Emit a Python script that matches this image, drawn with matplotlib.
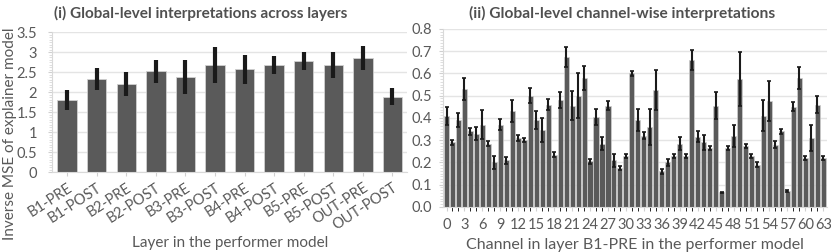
import numpy as np
import matplotlib
matplotlib.use("Agg")
import matplotlib.pyplot as plt
from matplotlib.ticker import AutoMinorLocator

# (i) layer-wise values
layers = ['B1-PRE', 'B1-POST', 'B2-PRE', 'B2-POST', 'B3-PRE', 'B3-POST',
          'B4-PRE', 'B4-POST', 'B5-PRE', 'B5-POST', 'OUT-PRE', 'OUT-POST']
layer_mean = [1.80, 2.33, 2.20, 2.52, 2.38, 2.68, 2.57, 2.68, 2.78, 2.68, 2.85, 1.88]
layer_err = [0.25, 0.28, 0.30, 0.29, 0.43, 0.45, 0.36, 0.22, 0.22, 0.32, 0.30, 0.21]

# (ii) channel-wise values for layer B1-PRE
channel_mean = [0.41, 0.29, 0.39, 0.53, 0.34, 0.33, 0.37, 0.285, 0.20, 0.37,
                0.21, 0.43, 0.31, 0.30, 0.50, 0.39, 0.345, 0.46, 0.235, 0.48,
                0.675, 0.455, 0.50, 0.58, 0.205, 0.405, 0.285, 0.455, 0.21, 0.175,
                0.23, 0.60, 0.39, 0.32, 0.36, 0.525, 0.16, 0.20, 0.23, 0.285,
                0.23, 0.66, 0.315, 0.29, 0.265, 0.455, 0.065, 0.265, 0.32, 0.575,
                0.275, 0.23, 0.19, 0.41, 0.475, 0.28, 0.34, 0.07, 0.45, 0.58,
                0.22, 0.31, 0.46, 0.22]
channel_err = [0.04, 0.01, 0.03, 0.05, 0.015, 0.03, 0.065, 0.01, 0.03, 0.025,
               0.015, 0.05, 0.015, 0.01, 0.035, 0.04, 0.055, 0.025, 0.01, 0.035,
               0.045, 0.065, 0.10, 0.055, 0.01, 0.035, 0.03, 0.02, 0.03, 0.01,
               0.01, 0.01, 0.05, 0.015, 0.08, 0.09, 0.01, 0.015, 0.01, 0.03,
               0.01, 0.045, 0.025, 0.035, 0.01, 0.06, 0.003, 0.01, 0.05, 0.12,
               0.01, 0.01, 0.01, 0.07, 0.09, 0.015, 0.01, 0.004, 0.02, 0.05,
               0.01, 0.06, 0.04, 0.01]

bar_color = '#5a5a5a'
err_color = '#1a1a1a'
text_color = '#595959'
title_color = '#505050'
grid_color = '#e4e4e4'

plt.rcParams['font.family'] = ['Lato', 'DejaVu Sans']

W, H = 831, 252
fig = plt.figure(figsize=(W / 100, H / 100), dpi=100)
ax1 = fig.add_axes([0.063, 0.317, 0.427, 0.556])
ax2 = fig.add_axes([0.533, 0.179, 0.462, 0.706])


def style_axis(ax, labelsize, pad):
    for side in ['top', 'right']:
        ax.spines[side].set_visible(False)
    ax.spines['left'].set_color('#d9d9d9')
    ax.spines['bottom'].set_color('#d9d9d9')
    ax.grid(axis='y', color=grid_color, linewidth=1)
    ax.set_axisbelow(True)
    ax.tick_params(axis='both', colors='#d0d0d0', labelcolor=text_color, labelsize=labelsize)
    ax.tick_params(axis='y', which='major', length=3, pad=pad)
    ax.tick_params(axis='y', which='minor', length=2.5, colors='#d9d9d9')
    ax.tick_params(axis='x', length=3, direction='out')


# (i) left chart
x1 = np.arange(len(layers))
ax1.bar(x1, layer_mean, width=0.66, color=bar_color, edgecolor='#d0d0d0', linewidth=0.6)
ax1.errorbar(x1, layer_mean, yerr=layer_err, fmt='none', ecolor=err_color,
             elinewidth=3, capsize=0)
ax1.set_xlim(-0.5, 11.5)
ax1.set_ylim(0, 3.5)
ax1.set_yticks(np.arange(0, 3.51, 0.5))
ax1.set_yticklabels(['0', '0.5', '1', '1.5', '2', '2.5', '3', '3.5'])
ax1.yaxis.set_minor_locator(AutoMinorLocator(8))
ax1.set_xticks(x1)
ax1.set_xticklabels(layers, rotation=33, ha='right', rotation_mode='anchor')
style_axis(ax1, 10.5, 8)
ax1.tick_params(axis='x', labelsize=10.5, pad=3)
fig.text(201 / W, 1 - 13 / H, '(i) Global-level interpretations across layers',
         fontsize=11, fontweight='bold', color=title_color, ha='center', va='center')
fig.text(230 / W, 1 - 243 / H, 'Layer in the performer model', fontsize=11,
         color=text_color, ha='center', va='center')
fig.text(10 / W, 1 - 134 / H, 'Inverse MSE of explainer model', fontsize=11,
         color=text_color, ha='center', va='center', rotation=90)

# (ii) right chart
x2 = np.arange(len(channel_mean))
ax2.bar(x2, channel_mean, width=0.85, color=bar_color, edgecolor='#d0d0d0', linewidth=0.5)
ax2.errorbar(x2, channel_mean, yerr=channel_err, fmt='none', ecolor=err_color,
             elinewidth=1.5, capsize=1.6, capthick=1.2)
ax2.set_xlim(-0.6, 63.6)
ax2.set_ylim(0, 0.8)
ax2.set_yticks(np.arange(0, 0.81, 0.1))
ax2.set_yticklabels([f'{v:.1f}' for v in np.arange(0, 0.81, 0.1)])
ax2.yaxis.set_minor_locator(AutoMinorLocator(8))
ax2.set_xticks(x2, minor=True)
ax2.set_xticks(np.arange(0, 64, 3))
style_axis(ax2, 10.5, 5)
ax2.tick_params(axis='x', which='both', length=3, pad=5)
fig.text(622 / W, 1 - 13 / H, '(ii) Global-level channel-wise interpretations',
         fontsize=11.2, fontweight='bold', color=title_color, ha='center', va='center')
ax2.set_xlabel('Channel in layer B1-PRE in the performer model', fontsize=11.5,
               color=text_color, labelpad=4)

fig.savefig('out.png', dpi=100)
